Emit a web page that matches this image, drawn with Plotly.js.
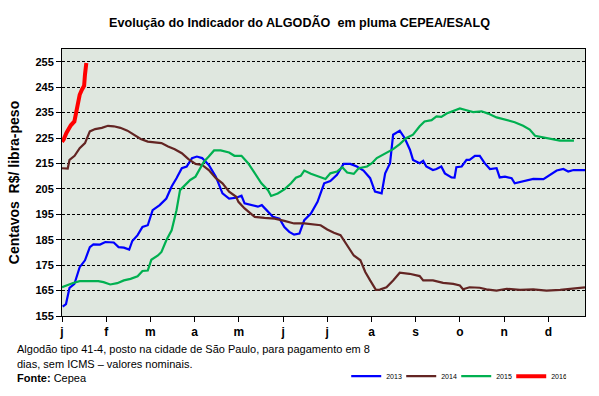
<!DOCTYPE html>
<html>
<head>
<meta charset="utf-8">
<script src="https://cdn.plot.ly/plotly-3.0.1.min.js"></script>
<style>html,body{margin:0;padding:0;background:#fff;}#chart{width:599px;height:396px;}</style>
</head>
<body>
<div id="chart"></div>
<script>
// x = position in the year, in months (0 = start of January)
const monthTicks = [0,1,2,3,4,5,6,7,8,9,10,11];
const monthLabels = ['j','f','m','a','m','j','j','a','s','o','n','d'];
const yTicks = [155,165,175,185,195,205,215,225,235,245,255];

const x2013 = [0.015,0.09,0.17,0.28,0.4,0.52,0.63,0.71,0.86,0.98,1.17,1.28,1.4,1.52,1.59,1.71,1.82,1.94,2.05,2.21,2.36,2.48,2.59,2.71,2.82,2.94,3.05,3.17,3.32,3.48,3.63,3.78,3.94,4.06,4.13,4.28,4.43,4.52,4.66,4.77,4.92,5.03,5.14,5.25,5.37,5.48,5.63,5.78,5.93,6.07,6.22,6.37,6.52,6.67,6.82,6.97,7.08,7.23,7.31,7.42,7.49,7.64,7.75,7.87,7.94,8.09,8.17,8.24,8.39,8.47,8.58,8.66,8.81,8.88,8.92,9.04,9.15,9.22,9.34,9.45,9.56,9.68,9.83,9.9,10.02,10.17,10.24,10.43,10.66,10.89,11.0,11.19,11.34,11.45,11.57,11.83];
const y2013 = [158.7,159.7,166.1,167.6,174.2,176.9,182.1,183.2,183.1,184.1,183.9,182.1,181.9,181.1,184.5,186.8,190,190.7,196.6,198.6,201.2,205.9,209.2,213.1,213.8,217.1,217.7,217.1,214.4,209.8,203.2,201.2,201.5,202.3,199.3,198.6,198,198.6,196,194,193.3,190,188.1,187,187.4,192.7,195.3,199.9,207.2,208.1,210.5,214.8,214.8,213.8,212.2,209.2,203.9,203.2,211.1,215.1,226.3,227.9,225,220.4,216.4,215.1,216,213.8,212.4,212.8,213.8,211.1,209.5,209.4,213.5,213.8,216.4,216.4,218,218,215.1,212.8,213.1,209.5,209.8,209.2,207.2,208.1,208.9,208.8,210.1,212.2,212.8,211.8,212.4,212.4];

const x2014 = [0,0.13,0.17,0.285,0.4,0.52,0.63,0.75,0.9,1.04,1.17,1.32,1.48,1.63,1.78,1.94,2.09,2.25,2.4,2.55,2.71,2.86,3.02,3.17,3.32,3.48,3.63,3.78,3.94,3.99,4.13,4.36,4.58,4.81,5.03,5.25,5.48,5.66,5.85,6.0,6.15,6.3,6.45,6.6,6.75,6.86,6.97,7.1,7.19,7.34,7.49,7.64,7.86,8.09,8.17,8.39,8.62,8.85,9.0,9.07,9.22,9.45,9.6,9.83,10.06,10.36,10.66,10.96,11.27,11.57,11.83];
const y2014 = [213.1,213,216.4,218,221,223,227.6,228.5,229,229.8,229.6,229,227.9,226.3,224.6,223.6,223.4,223,221.7,220.6,219,216.7,214.8,214.4,212.4,209.2,207.2,203.9,201.9,199.9,197.3,194,193.6,193.3,192.4,191.4,191.4,191,190.7,189,187.7,186.8,182.8,178.8,176.9,172.3,169,165.3,165.4,166.3,169,172,171.6,170.7,169,169,168,167.6,167,165.5,166.3,166.1,165.5,165,165.7,165.3,165.5,165,165.3,165.8,166.3];

const x2015 = [0,0.09,0.25,0.4,0.63,0.82,0.94,1.09,1.25,1.4,1.55,1.71,1.82,1.94,2.02,2.17,2.25,2.36,2.48,2.59,2.67,2.78,2.9,3.02,3.09,3.21,3.32,3.44,3.59,3.78,3.9,4.06,4.21,4.36,4.51,4.66,4.73,4.88,5.03,5.18,5.29,5.4,5.48,5.63,5.78,5.96,6.07,6.22,6.34,6.45,6.6,6.71,6.9,7.01,7.12,7.31,7.49,7.64,7.79,7.94,8.09,8.2,8.36,8.47,8.58,8.7,8.85,9.0,9.15,9.3,9.49,9.64,9.83,10.06,10.24,10.43,10.58,10.7,10.89,11.11,11.26,11.58];
const y2015 = [166.3,167,168,168.7,168.7,168.7,168.3,167.4,167.9,169,169.6,170.6,172.7,172.9,177.1,178.8,180.2,184.8,188.7,196.6,204.5,206.5,208.5,209.8,211.8,215.7,217.7,220.1,220.1,219.3,218,218,215.1,211.1,207.2,204.5,202.2,203.2,204.8,207.2,209.4,210.1,212.2,210.9,210.1,208.9,211.1,211.8,213.5,211.4,210.9,213.1,213.8,215.1,217.1,218.8,220.6,222.6,225,226.3,229.6,231.5,232,233.5,233.3,234.6,235.5,236.6,235.9,235.2,235.5,234.6,233.1,232,231.2,229.8,228.3,225.9,225.2,224.6,224,224];

const x2016 = [0,0.04,0.1,0.2,0.28,0.35,0.4,0.45,0.5,0.52,0.55];
const y2016 = [223.5,224.5,227,230,231.5,237,242,244,245.5,250,254.5];

const traces = [
  {x:x2013, y:y2013, name:'2013', type:'scatter', mode:'lines', line:{color:'#0000ff', width:2.2}},
  {x:x2014, y:y2014, name:'2014', type:'scatter', mode:'lines', line:{color:'#632523', width:2.2}},
  {x:x2015, y:y2015, name:'2015', type:'scatter', mode:'lines', line:{color:'#00b050', width:2.2}},
  {x:x2016, y:y2016, name:'2016', type:'scatter', mode:'lines', line:{color:'#ff0000', width:4}}
];

const layout = {
  width:599, height:396,
  margin:{l:62, r:14, t:49, b:80, autoexpand:false},
  paper_bgcolor:'#ffffff',
  plot_bgcolor:'#dfe7df',
  font:{family:'Liberation Sans, Arial, sans-serif', color:'#000'},
  title:{text:'<b>Evolução do Indicador do ALGODÃO  em pluma CEPEA/ESALQ</b>', font:{family:'Liberation Sans, Arial, sans-serif', size:12.6, color:'#000'}, x:0.5, xanchor:'center', y:0.944, yanchor:'middle'},
  xaxis:{range:[0,11.83], tickvals:monthTicks, ticktext:monthLabels, showgrid:false, zeroline:false,
         ticks:'outside', ticklen:5, tickcolor:'#000', showline:true, linecolor:'#000', linewidth:1, mirror:true,
         tickfont:{size:12, family:'Liberation Sans, Arial, sans-serif', weight:'bold'}},
  yaxis:{range:[155,260], tickvals:yTicks, ticktext:yTicks.map(String), showgrid:true, gridcolor:'#000', griddash:'3px,2px', gridwidth:1,
         zeroline:false, ticks:'outside', ticklen:5, tickcolor:'#000', showline:true, linecolor:'#000', linewidth:1, mirror:true,
         tickfont:{size:11, family:'Liberation Sans, Arial, sans-serif', weight:'bold'},
         title:{text:'<b>Centavos  R$/ libra-peso</b>', font:{size:14}, standoff:12}},
  showlegend:true,
  legend:{orientation:'h', xref:'container', yref:'container', x:0.578, xanchor:'left', y:0.05, yanchor:'middle', font:{size:7}, itemwidth:30, entrywidth:10, bgcolor:'rgba(0,0,0,0)', tracegroupgap:0},
  annotations:[
    {xref:'paper', yref:'paper', x:-0.0899, y:-0.1236, xanchor:'left', yanchor:'middle', showarrow:false, align:'left',
     text:'Algodão tipo 41-4, posto na cidade de São Paulo, para pagamento em 8', font:{size:11}},
    {xref:'paper', yref:'paper', x:-0.0899, y:-0.180, xanchor:'left', yanchor:'middle', showarrow:false, align:'left',
     text:'dias, sem ICMS – valores nominais.', font:{size:11}},
    {xref:'paper', yref:'paper', x:-0.0899, y:-0.232, xanchor:'left', yanchor:'middle', showarrow:false, align:'left',
     text:'<b>Fonte:</b> Cepea', font:{size:11}}
  ]
};

Plotly.newPlot('chart', traces, layout, {displayModeBar:false, staticPlot:true});
</script>
</body>
</html>
